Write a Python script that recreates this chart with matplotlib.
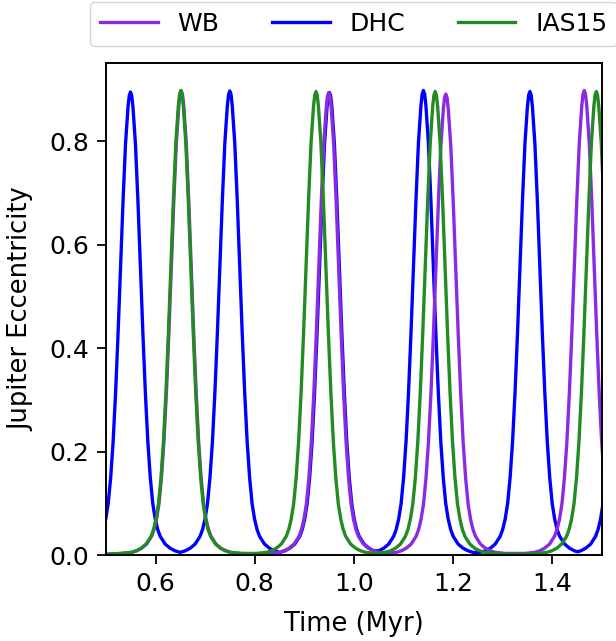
import numpy as np
import matplotlib
matplotlib.use("Agg")
import matplotlib.pyplot as plt

# peak times (Myr) and peak eccentricities
wb_peaks = [0.652, 0.9495, 1.1858, 1.4652]
wb_heights = [0.897, 0.894, 0.891, 0.898]

dhc_peaks = [0.5495, 0.7499, 0.951, 1.1406, 1.3555, 1.548]
dhc_heights = [0.895, 0.897, 0.894, 0.898, 0.896, 0.895]

ias_peaks = [0.6511, 0.9238, 1.1643, 1.4895]
ias_heights = [0.898, 0.896, 0.896, 0.896]

# shape of one eccentricity pulse (offset from peak in Myr -> e)
pulse_offsets = [0.0, 0.0025, 0.005, 0.01, 0.015, 0.02, 0.025, 0.03, 0.035, 0.04,
                 0.045, 0.05, 0.055, 0.06, 0.07, 0.08, 0.09, 0.095, 0.1, 0.12,
                 0.14, 0.16, 0.2]
pulse_values = [0.895, 0.888, 0.866, 0.795, 0.685, 0.555, 0.43, 0.315, 0.22, 0.15,
                0.10, 0.07, 0.05, 0.037, 0.022, 0.014, 0.009, 0.0075, 0.006, 0.004,
                0.003, 0.002, 0.0015]

series = [
    ("DHC", dhc_peaks, dhc_heights, "blue"),
    ("WB", wb_peaks, wb_heights, "blueviolet"),
    ("IAS15", ias_peaks, ias_heights, "forestgreen"),
]


def pulse_train(peaks, heights):
    """Place the read pulse points at each peak, stopping halfway to the neighbours."""
    ts, es = [], []
    offs = np.array(pulse_offsets)
    vals = np.array(pulse_values)
    for i, (p, h) in enumerate(zip(peaks, heights)):
        left = (p - peaks[i - 1]) / 2 if i > 0 else 1.0
        right = (peaks[i + 1] - p) / 2 if i < len(peaks) - 1 else 1.0
        scale = h / pulse_values[0]
        lmask = (offs < left) & (offs > 0)
        rmask = (offs < right) & (offs > 0)
        ts.extend(list(p - offs[lmask][::-1]))
        es.extend(list(vals[lmask][::-1] * scale))
        ts.append(p)
        es.append(h)
        ts.extend(list(p + offs[rmask]))
        es.extend(list(vals[rmask] * scale))
    return np.array(ts), np.array(es)


plt.rcParams['font.size'] = 18

fig = plt.figure(figsize=(6.16, 6.41), dpi=100)
ax = fig.add_axes([0.172, 0.1334, 0.8045, 0.7683])

handles = {}
for name, peaks, heights, color in series:
    t, e = pulse_train(peaks, heights)
    line, = ax.plot(t, e, color=color, lw=2.4, label=name)
    handles[name] = line

ax.set_xlim(0.5, 1.5)
ax.set_ylim(0, 0.951)
ax.set_xticks([0.6, 0.8, 1.0, 1.2, 1.4])
ax.set_yticks([0.0, 0.2, 0.4, 0.6, 0.8])
ax.set_xlabel("Time (Myr)", fontsize=18.5, labelpad=11)
ax.set_ylabel("Jupiter Eccentricity", fontsize=18.5, labelpad=11)
ax.tick_params(axis='both', labelsize=18, length=6.5, width=1.3, pad=5.5)
for s in ax.spines.values():
    s.set_linewidth(1.4)

order = ["WB", "DHC", "IAS15"]
ax.legend([handles[k] for k in order], order, loc="lower center",
          bbox_to_anchor=(0.5, 1.01), ncol=3, fontsize=18,
          handlelength=2.3, columnspacing=2.1)

fig.savefig("out.png", dpi=100)
